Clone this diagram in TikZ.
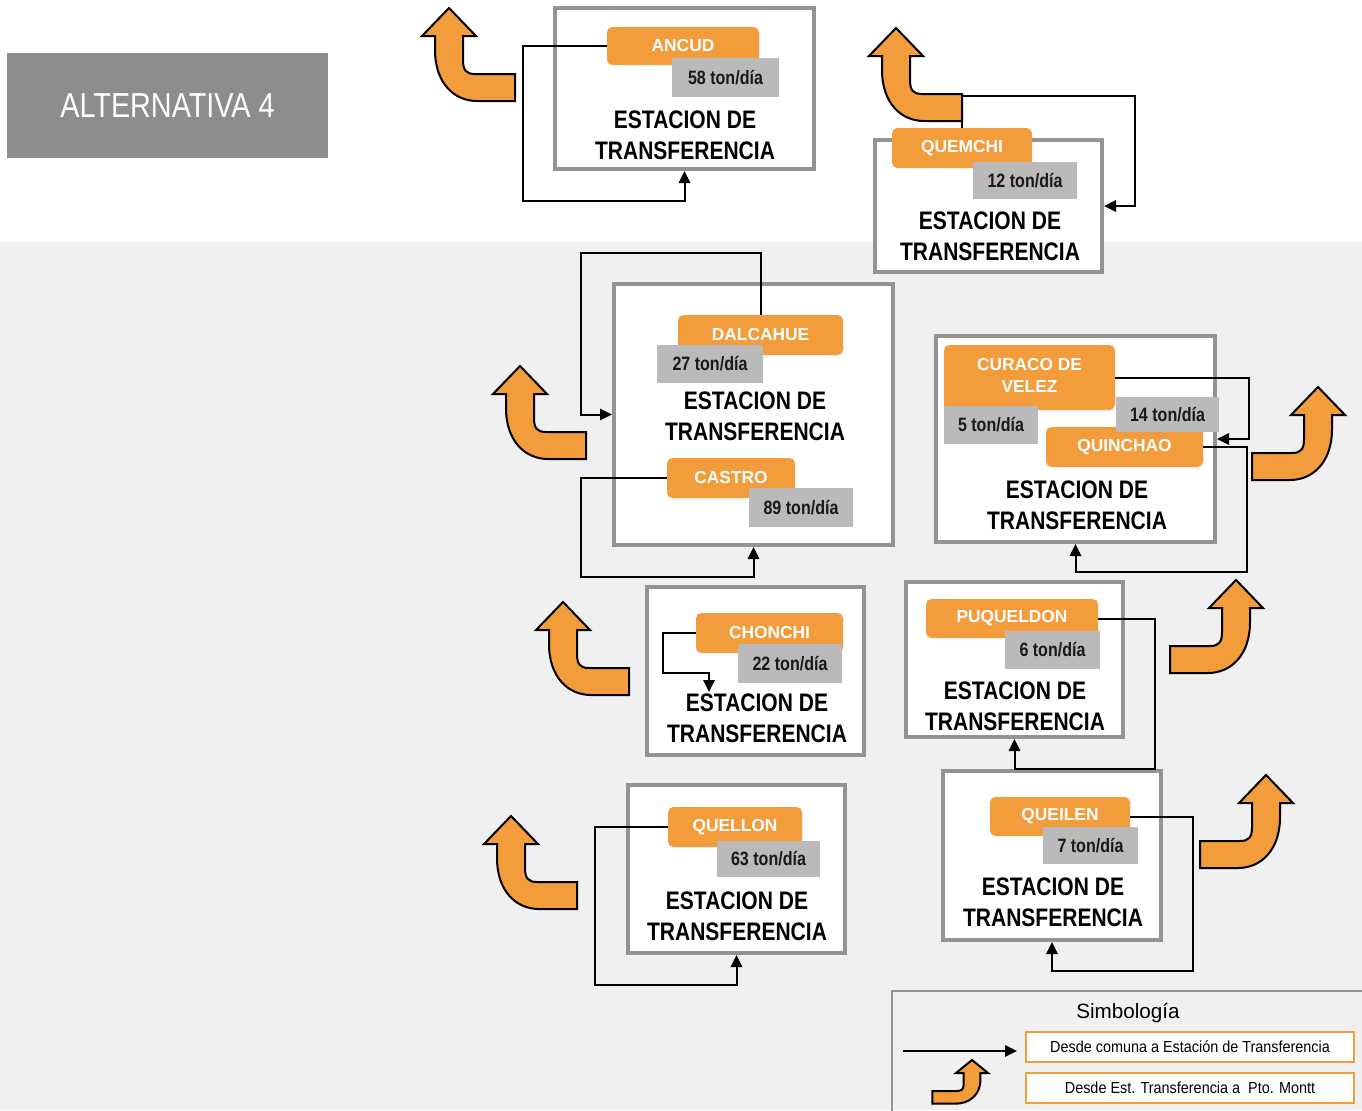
\documentclass[tikz,border=0pt]{standalone}
\usepackage{fontspec}
\setmainfont{Liberation Sans}
\newfontfamily\condfont[FakeStretch=0.83]{Liberation Sans}
\newfontfamily\legfont[FakeStretch=0.9]{Liberation Sans}
\usetikzlibrary{arrows.meta,fit}

\definecolor{naranja}{HTML}{F39C3B}
\definecolor{grisbox}{HTML}{939393}
\definecolor{grislabel}{HTML}{BABABA}
\definecolor{grisfondo}{HTML}{F0F0F0}
\definecolor{gristitulo}{HTML}{8C8D8F}

\tikzset{
	station/.style={draw=grisbox, line width=3pt, fill=white, inner sep=0pt},
	comuna/.style={fill=naranja, rounded corners=4pt, inner sep=0pt},
	comunatxt/.style={text=white, align=center, font=\bfseries\fontsize{13}{16.5}\selectfont},
	carga/.style={fill=grislabel, inner sep=0pt},
	cargatxt/.style={text=black!90, font=\condfont\bfseries\fontsize{14.5}{16}\selectfont},
	estacion/.style={align=center, font=\condfont\bfseries\fontsize{19}{23.5}\selectfont},
	flujo/.style={line width=1.5pt, -{Triangle[length=9pt,width=8.5pt]}},
	leyenda/.style={draw=naranja, line width=1.5pt, fill=white, inner sep=0pt},
	leyendatxt/.style={font=\legfont\fontsize{12}{14}\selectfont},
	pics/curva/.style={code={
		\draw[line width=1.5pt, fill=naranja, line join=miter]
			(0,0) -- (27,28) -- (14,28) -- (14,52)
			.. controls (14,62) and (17,66) .. (26,66) -- (66,66) -- (66,93) -- (28,93)
			.. controls (5,93) and (-14,75) .. (-14,42) -- (-14,28) -- (-27,28) -- cycle;
	}}
}

\begin{document}
\begin{tikzpicture}[x=0.75pt,y=-0.75pt]
	\useasboundingbox (0,0) rectangle (1362,1110);
	% Background
	\fill[white] (0,0) rectangle (1362,242);
	\fill[grisfondo] (0,242) rectangle (1362,1110);
	
	% Title
	\node[fill=gristitulo, inner sep=0pt, fit={(7,53) (328,158)},
		label={[text=white, font=\condfont\fontsize{26}{30}\selectfont]center:ALTERNATIVA 4}] (titulo) {};
	
	% Stations
	\node[station, fit={(555,8) (814,169)}] (stAncud) {};
	\node[station, fit={(875,140) (1102,272)}] (stQuemchi) {};
	\node[station, fit={(614,284) (893,545)}] (stCastro) {};
	\node[station, fit={(936,336) (1215,542)}] (stCuraco) {};
	\node[station, fit={(647,587) (864,755)}] (stChonchi) {};
	\node[station, fit={(906,582) (1123,737)}] (stPuqueldon) {};
	\node[station, fit={(943,771) (1161,940)}] (stQueilen) {};
	\node[station, fit={(628,785) (845,953)}] (stQuellon) {};
	
	% Arrows to Pto. Montt
	\pic at (449,8) {curva};
	\pic at (896,28) {curva};
	\pic at (520,366) {curva};
	\pic at (563,602) {curva};
	\pic at (511,816) {curva};
	\pic[xscale=-1] at (1318,387) {curva};
	\pic[xscale=-1] at (1236,580) {curva};
	\pic[xscale=-1] at (1266,775) {curva};
	
	% Comunas
	\node[comuna, fit={(607,27) (759,65)}, label={[comunatxt]center:ANCUD}] (ancud) {};
	\node[comuna, fit={(892,128) (1032,168)}, label={[comunatxt]center:QUEMCHI}] (quemchi) {};
	\node[comuna, fit={(678,315) (843,355)}, label={[comunatxt]center:DALCAHUE}] (dalcahue) {};
	\node[comuna, fit={(667,458) (795,498)}, label={[comunatxt]center:CASTRO}] (castro) {};
	\node[comuna, fit={(944,345) (1115,410)}, label={[comunatxt, yshift=1.5pt]center:CURACO DE\\VELEZ}] (curaco) {};
	\node[comuna, fit={(1046,427) (1203,467)}, label={[comunatxt]center:QUINCHAO}] (quinchao) {};
	\node[comuna, fit={(696,613) (843,653)}, label={[comunatxt]center:CHONCHI}] (chonchi) {};
	\node[comuna, fit={(926,599) (1098,638)}, label={[comunatxt]center:PUQUELDON}] (puqueldon) {};
	\node[comuna, fit={(990,797) (1130,836)}, label={[comunatxt]center:QUEILEN}] (queilen) {};
	\node[comuna, fit={(668,807) (802,847)}, label={[comunatxt]center:QUELLON}] (quellon) {};
	
	% Tonnage
	\node[carga, fit={(672,58) (779,97)}, label={[cargatxt]center:58 ton/día}] (tAncud) {};
	\node[carga, fit={(973,162) (1077,199)}, label={[cargatxt]center:12 ton/día}] (tQuemchi) {};
	\node[carga, fit={(657,345) (763,383)}, label={[cargatxt]center:27 ton/día}] (tDalcahue) {};
	\node[carga, fit={(749,488) (853,527)}, label={[cargatxt]center:89 ton/día}] (tCastro) {};
	\node[carga, fit={(944,406) (1038,444)}, label={[cargatxt]center:5 ton/día}] (tCuraco) {};
	\node[carga, fit={(1116,397) (1219,432)}, label={[cargatxt]center:14 ton/día}] (tQuinchao) {};
	\node[carga, fit={(738,644) (842,683)}, label={[cargatxt]center:22 ton/día}] (tChonchi) {};
	\node[carga, fit={(1005,631) (1100,669)}, label={[cargatxt]center:6 ton/día}] (tPuqueldon) {};
	\node[carga, fit={(1043,827) (1138,864)}, label={[cargatxt]center:7 ton/día}] (tQueilen) {};
	\node[carga, fit={(717,841) (820,877)}, label={[cargatxt]center:63 ton/día}] (tQuellon) {};
	
	% Station labels
	\node[estacion] (eAncud) at (685,135) {ESTACION DE\\TRANSFERENCIA};
	\node[estacion] (eQuemchi) at (990,236) {ESTACION DE\\TRANSFERENCIA};
	\node[estacion] (eCastro) at (755,416) {ESTACION DE\\TRANSFERENCIA};
	\node[estacion] (eCuraco) at (1077,505) {ESTACION DE\\TRANSFERENCIA};
	\node[estacion] (eChonchi) at (757,718) {ESTACION DE\\TRANSFERENCIA};
	\node[estacion] (ePuqueldon) at (1015,706) {ESTACION DE\\TRANSFERENCIA};
	\node[estacion] (eQueilen) at (1053,902) {ESTACION DE\\TRANSFERENCIA};
	\node[estacion] (eQuellon) at (737,916) {ESTACION DE\\TRANSFERENCIA};
	
	% From comuna to station
	\coordinate (finChonchi) at (709,692);
	\draw[flujo] (ancud.west) -| (523,201) -| (stAncud.south);
	\draw[flujo] (quemchi.north) |- (1135,96) |- (stQuemchi.east);
	\draw[flujo] (dalcahue.north) |- (581,253) |- (stCastro.west);
	\draw[flujo] (castro.west) -| (581,577) -| (stCastro.south);
	\draw[flujo] (curaco.east) -| (1249,439) -- (stCuraco.east);
	\draw[flujo] (quinchao.east) -| (1247,572) -| (stCuraco.south);
	\draw[flujo] (chonchi.west) -| (663,673) -| (finChonchi);
	\draw[flujo] (puqueldon.east) -| (1155,769) -| (stPuqueldon.south);
	\draw[flujo] (queilen.east) -| (1193,971) -| (stQueilen.south);
	\draw[flujo] (quellon.west) -| (595,985) -| (stQuellon.south);
	
	% Legend
	\draw[grisbox, line width=2pt] (892,1112) |- (1364,991);
	\node[font=\fontsize{15.5}{18}\selectfont] (simbologia) at (1128,1013) {Simbología};
	\node[leyenda, fit={(1026,1032) (1354,1062)},
		label={[leyendatxt]center:Desde comuna a Estación de Transferencia}] (ley1) {};
	\node[leyenda, fit={(1026,1073) (1354,1103)},
		label={[leyendatxt]center:Desde Est. Transferencia a\ \ Pto. Montt}] (ley2) {};
	\coordinate (leyIni) at (903,1051);
	\coordinate (leyFin) at (1017,1051);
	\draw[flujo] (leyIni) -- (leyFin);
	\pic[xscale=-0.6, yscale=0.47] at (972,1060) {curva};
\end{tikzpicture}
\end{document}
